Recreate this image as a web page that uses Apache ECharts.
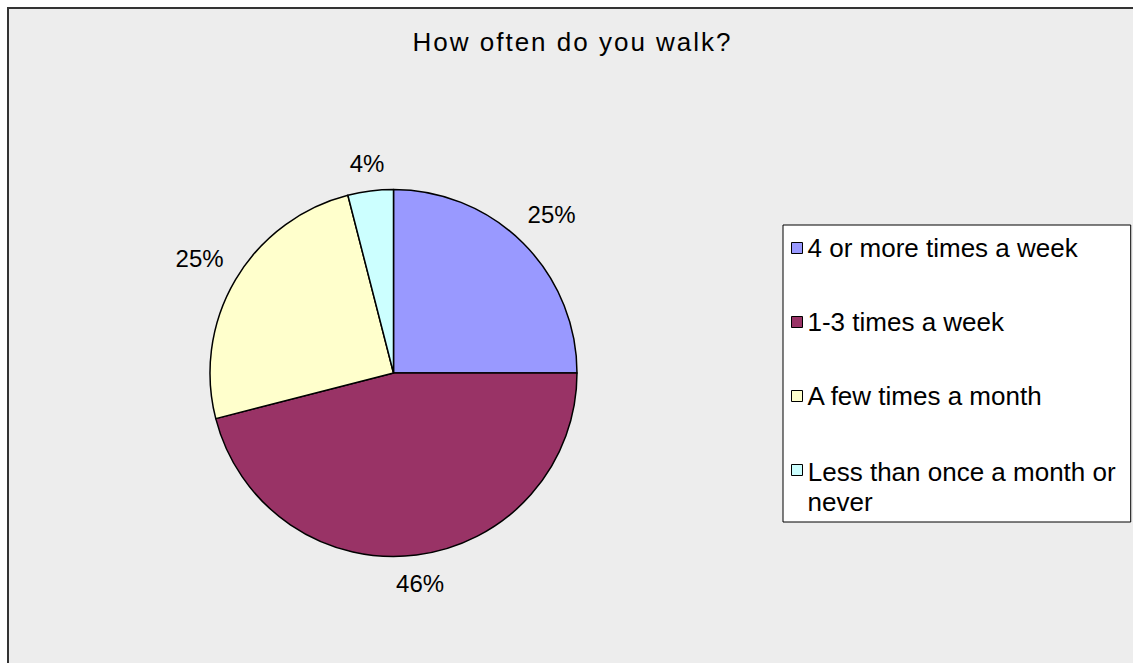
<!DOCTYPE html>
<html>
<head>
<meta charset="utf-8">
<script src="https://cdn.jsdelivr.net/npm/echarts@6/dist/echarts.min.js"></script>
<style>
  html, body { margin: 0; padding: 0; background: #fff; overflow: hidden; }
  /* grey plot frame, only its top and left edges are visible */
  #frame { position: absolute; left: 7px; top: 7px; width: 1200px; height: 700px;
           background: #ededed; border-left: 2px solid #333; border-top: 2px solid #333; }
  #chart { position: absolute; left: 0; top: 0; width: 1133px; height: 663px; }
</style>
</head>
<body>
<div id="frame"></div>
<div id="chart"></div>
<script>
const titleText = 'How often do you walk?'
const categories = [
  '4 or more times a week',
  '1-3 times a week',
  'A few times a month',
  'Less than once a month or never',
]
const shares = [25, 46, 25, 4]

const sliceColors = ['#9999ff', '#993366', '#ffffcc', '#ccffff']
const fontFamily = '"Liberation Sans", Arial, sans-serif'

const center = [393.5, 373]
const radius = 183.5
const labelGap = 16

// mid angle of each slice as a fraction of the circle (start at 12 o'clock, clockwise)
const total = shares.reduce((s, v) => s + v, 0)
const midFraction = shares.map((v, i) => (shares.slice(0, i).reduce((s, x) => s + x, 0) + v / 2) / total)

// the long legend entry wraps before its last word; a tall empty token on the
// first line keeps that line (not the whole block) level with the marker
const wrapName = categories[categories.length - 1]
const legendLabel = (name) => {
  if (name !== wrapName) return name
  const cut = name.lastIndexOf(' ')
  return `{sp| }{t|${name.slice(0, cut)}}\n{t|${name.slice(cut + 1)}}`
}

const legendCommon = {
  orient: 'vertical',
  itemGap: 44,
  itemWidth: 11,
  itemHeight: 11,
  icon: 'rect',
  selectedMode: false,
  itemStyle: { borderColor: '#000', borderWidth: 1 },
  formatter: legendLabel,
  textStyle: {
    fontFamily,
    fontSize: 26,
    color: '#000',
    lineHeight: 30,
    rich: {
      sp: { fontFamily, fontSize: 1, lineHeight: 60 },
      t: { fontFamily, fontSize: 26, color: '#000', lineHeight: 30, verticalAlign: 'bottom' },
    },
  },
}

const chart = echarts.init(document.getElementById('chart'), null, { renderer: 'svg' })

chart.setOption({
  animation: false,
  title: {
    text: titleText,
    left: 'center',
    top: 29,
    padding: 0,
    textStyle: { fontFamily, fontSize: 26, fontWeight: 'normal', color: '#000' },
  },
  // the boxed legend holds the first three entries, the wrapped last entry sits in its own legend inside the box
  legend: [
    {
      ...legendCommon,
      left: 783,
      top: 225,
      padding: [8, 53, 111, 8],
      backgroundColor: '#fff',
      borderColor: '#000',
      borderWidth: 1,
      data: categories.slice(0, -1),
    },
    {
      ...legendCommon,
      z: 5,
      left: 791,
      top: 425,
      padding: 0,
      data: categories.slice(-1),
    },
  ],
  series: [{
    type: 'pie',
    center,
    radius,
    startAngle: 90,
    clockwise: true,
    avoidLabelOverlap: false,
    emphasis: { disabled: true },
    data: categories.map((name, i) => ({
      name,
      value: shares[i],
      itemStyle: { color: sliceColors[i] },
    })),
    itemStyle: { borderColor: '#000', borderWidth: 1.5 },
    label: {
      show: true,
      position: 'outside',
      formatter: '{d}%',
      fontFamily,
      fontSize: 24,
      color: '#000',
    },
    labelLine: { show: false },
    labelLayout: (params) => {
      const theta = midFraction[params.dataIndex] * 2 * Math.PI
      const dx = Math.sin(theta)
      const dy = -Math.cos(theta)
      const d = radius + labelGap + Math.abs(dx) * params.labelRect.width / 2 + Math.abs(dy) * 10
      return { x: center[0] + dx * d, y: center[1] + dy * d, align: 'center', verticalAlign: 'middle' }
    },
  }],
})

// the original title is drawn letter-spaced and sits a little right of centre
const spaceTitle = () => {
  document.querySelectorAll('#chart text').forEach((t) => {
    if (t.textContent === titleText) {
      t.setAttribute('letter-spacing', '2')
      t.setAttribute('dx', '6')
    }
  })
}
spaceTitle()
chart.on('finished', spaceTitle)
</script>
</body>
</html>
